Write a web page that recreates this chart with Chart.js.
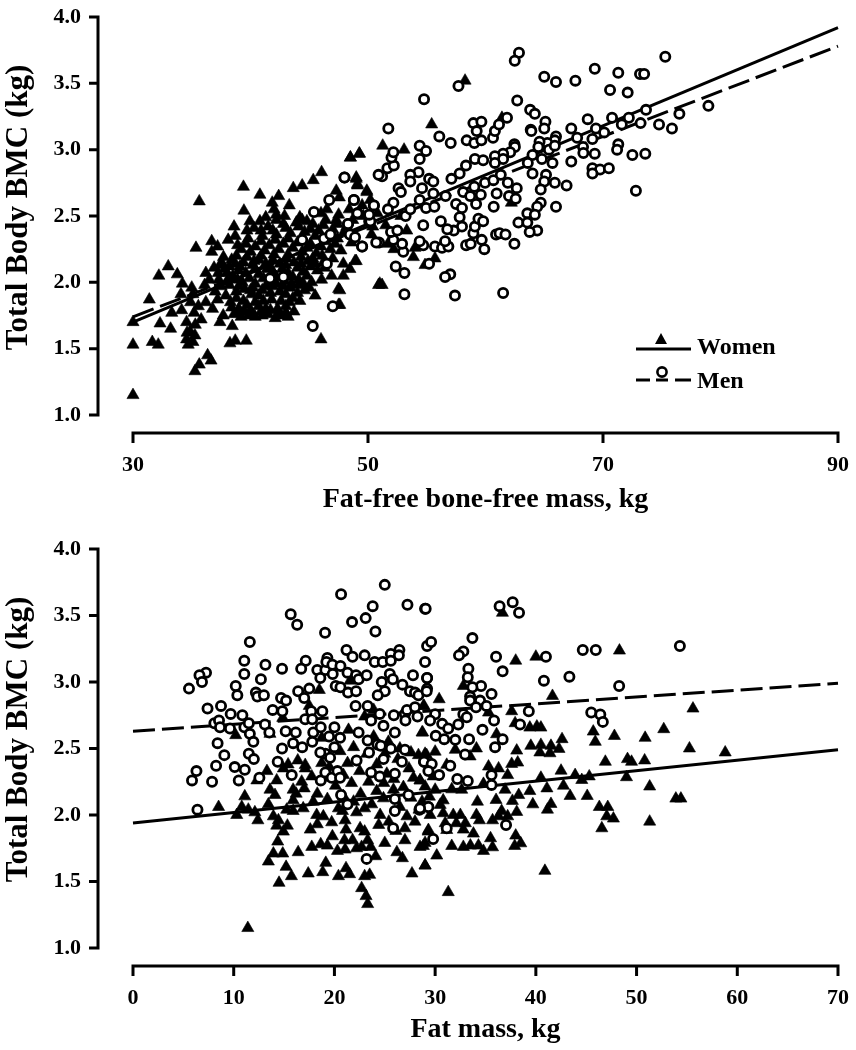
<!DOCTYPE html>
<html>
<head>
<meta charset="utf-8">
<title>Total body BMC</title>
<script src="https://cdn.jsdelivr.net/npm/chart.js@4/dist/chart.umd.min.js"></script>
<style>
    html, body { margin: 0; padding: 0; background: #fff; width: 856px; height: 1050px; overflow: hidden; }
    canvas { position: absolute; left: 0; }
    #top { top: -10px; }
    #bottom { top: 520px; }
    #legend { position: absolute; left: 630px; top: 325px; width: 170px; height: 70px; }
    #legend svg { position: absolute; left: 0; top: 0; }
    #legend span { position: absolute; left: 67px; font: bold 24px "Liberation Serif"; color: #000; line-height: 24px; }
</style>
</head>
<body>
<canvas id="top" width="856" height="530"></canvas>
<canvas id="bottom" width="856" height="530"></canvas>
<div id="legend">
    <svg width="70" height="70">
        <polygon points="31,8 37,19 25,19" fill="#000"/>
        <line x1="6" y1="24" x2="61" y2="24" stroke="#000" stroke-width="3"/>
        <circle cx="32" cy="47" r="4.6" fill="#fff" stroke="#000" stroke-width="2.6"/>
        <line x1="6" y1="55" x2="20" y2="55" stroke="#000" stroke-width="3"/>
        <line x1="26" y1="55" x2="38" y2="55" stroke="#000" stroke-width="3"/>
        <line x1="45" y1="55" x2="61" y2="55" stroke="#000" stroke-width="3"/>
    </svg>
    <span style="top:9px">Women</span>
    <span style="top:43px">Men</span>
</div>
<script>
const yTicks = [1.0, 1.5, 2.0, 2.5, 3.0, 3.5, 4.0];
const ffmTicks = [30, 50, 70, 90];
const fatTicks = [0, 10, 20, 30, 40, 50, 60, 70];

// Fat-free bone-free mass panel, [kg, BMC]
const womenFfm = [
    [30,1.15],[30,1.53],[31.64,1.55],[32.15,1.53],[31.39,1.87],[32.2,2.05],[33,2.12],[33.77,2.06],[34.2,1.99],[34.08,1.91],
    [32.3,1.69],[33.2,1.65],[30,1.7],[35.36,2.26],[35.64,2.61],[36.7,2.31],[37.2,2.27],[36.7,2.23],[37.7,2.19],[38.1,2.32],
    [38.7,2.35],[38.6,2.42],[39.44,2.54],[39.4,2.72],[40.8,2.66],[40.8,2.46],[39.95,2.46],[39.7,2.39],[42.4,2.65],[41.85,2.6],
    [42,2.55],[42.2,2.51],[43.3,2.58],[43.64,2.71],[44.4,2.73],[45.34,2.77],[46.05,2.83],[48.5,2.94],[49.26,2.97],[49,2.79],
    [49.1,2.74],[47.3,2.69],[47.56,2.64],[49.9,2.68],[44.2,2.49],[44.8,2.46],[46.5,2.55],[47.5,2.51],[45.5,1.9],[47.5,1.95],
    [47.5,1.83],[46,1.57],[39.64,1.56],[38.7,1.56],[38.25,1.54],[36.35,1.45],[36.64,1.41],[35.64,1.38],[35.27,1.33],[34.7,1.53],
    [35.27,1.6],[34.56,1.57],[34.85,1.63],[34.56,1.7],[34.14,1.79],[33.3,1.77],[35.56,1.82],[36.77,1.8],[37.4,1.7],[37.68,1.75],
    [38.45,1.67],[36.2,2.07],[36.9,2.11],[37.26,2.07],[36.1,1.98],[38.7,2.14],[49,2.16],[47.9,2.14],[48.46,2.1],[47.9,2.05],
    [46.05,2.02],[46.9,2.05],[50.9,1.98],[58.26,3.52],[55.42,3.19],[51.25,3.03],[53.07,3],[49.27,2.97],[48.5,2.94],[49,2.78],
    [49.1,2.73],[49.9,2.69],[61.4,3.24],[62.2,2.6],[51.2,1.98],[51,1.99],[53.86,2.19],[54.85,2.13],[55.7,2.18],[50.3,2.36],
    [53.3,2.39],[54,2.26],[51.7,2.29],[48.9,2.16],[47.6,1.94],[47.6,1.83],
    [38.6,1.76],[39.2,1.74],[39.8,1.75],[40.4,1.74],[41,1.75],[41.5,1.76],[42.1,1.73],[42.6,1.75],[43.2,1.74],[39,1.8],
    [40,1.79],[40.7,1.82],[41.3,1.8],[42.3,1.8],[43,1.82],[38.3,1.85],[39.4,1.86],[41.8,1.87],[43.6,1.88],[44.2,1.86],
    [37.9,1.9],[38.8,1.93],[40.1,1.91],[41,1.94],[42.5,1.93],[43.4,1.96],[44.6,1.94],[38.2,1.98],[39.3,2],[40.4,1.99],
    [41.6,2],[42.9,2.01],[44.1,2.02],[45.2,2],[37.3,2.02],[38.5,2.05],[39.6,2.07],[40.7,2.06],[41.9,2.08],[43.2,2.07],
    [44.5,2.08],[45.7,2.09],[37.8,2.1],[39.1,2.12],[40.2,2.13],[41.3,2.14],[42.5,2.14],[43.7,2.15],[44.9,2.16],[46.2,2.15],
    [47,2.18],[38.4,2.17],[39.7,2.19],[40.9,2.2],[42,2.21],[43.2,2.21],[44.4,2.23],[45.6,2.22],[46.8,2.25],[47.7,2.24],
    [39.2,2.25],[40.4,2.27],[41.6,2.28],[42.8,2.29],[44,2.3],[45.1,2.29],[46.3,2.31],[47.4,2.33],[48.6,2.3],[39.8,2.33],
    [41,2.35],[42.2,2.36],[43.4,2.37],[44.6,2.38],[45.8,2.39],[47,2.4],[48.2,2.42],[40.3,2.41],[41.5,2.42],[42.8,2.44],
    [43.9,2.45],[45.3,2.44],[46.4,2.47],[48.7,2.47],[49.6,2.5],[41.3,2.49],[42.9,2.5],[46,2.52],[48.4,2.55],[49.5,2.58],
    [50.2,2.62],[50.8,2.52],[50.4,2.42],[52.2,2.25],[52.8,2.5],[51.5,2.43],[35.2,1.77],[35.8,1.72],[36.2,1.85],[37,1.93],
    [35.1,1.91],[35,1.96],[34.9,1.85],[36.5,2.02],[37.4,2.13],[35.3,1.68],[34.6,1.62],[35.1,1.55],
    [38.9,1.77],[39.5,1.78],[40.2,1.76],[40.9,1.78],[41.7,1.79],[42.4,1.77],[43,1.77],[43.7,1.78],[39.7,1.83],[40.4,1.85],
    [41.1,1.86],[42.6,1.86],[43.3,1.85],[38.8,1.88],[40.7,1.9],[41.7,1.92],[43,1.91],[44,1.92],[39.5,1.95],[40.2,1.96],
    [41.9,1.97],[42.8,1.97],[44.1,1.98],[45,1.96],[38.9,2.02],[39.9,2.03],[41.1,2.03],[42.2,2.04],[43.6,2.04],[44.8,2.05],
    [38,2.07],[39,2.09],[40.4,2.1],[41.4,2.1],[42.7,2.1],[44,2.11],[45.1,2.12],[46.3,2.11],[38.8,2.2],[40.3,2.16],
    [41.9,2.17],[43.1,2.18],[44.3,2.19],[45.3,2.18],[46.1,2.2],[40,2.23],[41.2,2.24],[42.4,2.25],[43.6,2.26],[44.8,2.26],
    [46,2.27],[47.2,2.29],[40.9,2.31],[42.1,2.32],[43.2,2.33],[44.4,2.34],[45.5,2.35],[46.7,2.35],[47.9,2.37],
    [37.5,1.97],[38,2.01],[39,1.97],[40,1.94],[41.3,1.97],[42.2,1.99],[43.5,1.99],[44.5,1.99],[37.2,1.87],[38.4,1.81],
    [37.6,2.14],[38.2,2.12],[39.4,2.15],[40.7,2.17],[41.7,2.11],[43,2.13],[44.3,2.14],[45.5,2.14],[38.9,2.28],[39.6,2.29],
    [40.9,2.39],[41.9,2.39],[43,2.41],[44.1,2.42],[45.1,2.4],[46.2,2.43],[47.4,2.44],[42.2,2.47],[44.4,2.47],[47.3,2.47]
];
const menFfm = [
    [62.85,3.73],[62.49,3.67],[75.3,3.7],[69.3,3.61],[65,3.55],[66,3.51],[67.65,3.52],[71.3,3.58],[73.15,3.57],[73.5,3.57],
    [70.6,3.45],[72.1,3.43],[57.7,3.48],[54.77,3.38],[62.7,3.37],[63.8,3.3],[64.2,3.27],[78.97,3.33],[76.5,3.27],[73.66,3.3],
    [74.77,3.19],[75.87,3.16],[73.2,3.2],[72.2,3.24],[71.6,3.19],[70.77,3.24],[68.7,3.23],[69.4,3.16],[70.1,3.13],[69.1,3.08],
    [67.3,3.16],[67.8,3.09],[68.3,3.02],[68.33,2.975],[69.3,2.97],[71.3,3.04],[71.2,3],[72.5,2.96],[73.6,2.97],[69.1,2.86],
    [69.75,2.85],[70.5,2.86],[69.1,2.82],[67.3,2.91],[72.8,2.69],[65.1,3.21],[65,3.16],[63.85,3.15],[63.9,3.14],[66,3.1],
    [65.9,3.07],[65.26,3.05],[64.6,3.06],[64.5,3.02],[65.4,3],[65.9,3.03],[64,2.96],[64.8,2.93],[65.7,2.9],[63.6,2.9],
    [64,2.82],[65.15,2.81],[65,2.76],[65.9,2.75],[66.9,2.73],[64.7,2.7],[64.7,2.6],[64.4,2.57],[66,2.57],[63.56,2.52],
    [64.2,2.51],[62.8,2.45],[63.56,2.45],[64.4,2.39],[63.76,2.38],[62.46,2.29],[61.5,1.92],[57.4,1.9],[53.1,1.91],[57,2.06],
    [56.56,2.04],[52.36,2.12],[53.1,2.07],[55.2,2.14],[53,2.23],[52.9,2.29],[49.5,2.27],[50.94,2.3],[52.16,2.32],[51.96,2.38],
    [52.5,2.39],[54.7,2.28],[54.4,2.31],[55.7,2.27],[56.3,2.26],[56.84,2.27],[56.56,2.31],[58.35,2.28],[58.74,2.29],[59.9,2.25],
    [59.68,2.32],[58.97,2.37],[60.9,2.36],[61.2,2.37],[61.7,2.36],[59.1,2.42],[58,2.42],[57.3,2.39],[56.75,2.4],[56.2,2.46],
    [54.7,2.43],[57.8,2.49],[59.4,2.48],[59.8,2.46],[60.7,2.57],[57.5,2.59],[58,2.56],[59.2,2.59],[54.94,2.56],[55.65,2.57],
    [53.2,2.5],[53.6,2.55],[52.16,2.6],[51.7,2.55],[50.5,2.58],[50.1,2.51],[50.1,2.46],[49.1,2.52],[48.8,2.62],[48,2.79],
    [48.3,2.44],[48.5,2.36],[51.2,2.8],[51.65,2.86],[52.2,2.88],[52,2.94],[52.16,2.98],[54.4,3.03],[54.94,2.99],[54.4,2.93],
    [51.73,3.16],[56.07,3.1],[57.04,3.05],[58.97,3.2],[59.65,3.21],[59.25,3.14],[58.4,3.07],[59.05,3.05],[59.65,3.07],[60.64,3.09],
    [60.8,3.14],[61.15,3.19],[61.83,3.24],[62.46,3.04],[62.5,3.02],[62.1,2.98],[61.5,2.97],[60.8,2.95],[61.5,2.93],[60.8,2.9],
    [59.1,2.93],[59.8,2.92],[58.34,2.88],[57.8,2.82],[57.1,2.78],[54.3,2.83],[53.6,2.81],[53.6,2.76],[52.6,2.71],[52.8,2.68],
    [54.6,2.71],[54.4,2.62],[55.2,2.78],[55.56,2.76],[55.56,2.67],[56.6,2.65],[58.1,2.68],[59.05,2.72],[59.6,2.66],[58.7,2.65],
    [59.96,2.75],[60.67,2.77],[61.3,2.81],[61.9,2.75],[62.66,2.71],[60.95,2.67],[62,2.65],[62.57,2.63],
    [45.3,1.67],[47,1.82],[41.66,2.03],[42.8,2.04],[46.5,2.14],[44.4,2.32],[46.25,2.33],[46.8,2.36],[48.46,2.36],[48.9,2.34],
    [49.5,2.27],[48.3,2.44],[50.2,2.46],[49.1,2.52],[50.1,2.51],[50.5,2.58],[48.8,2.62],[46.7,2.62],[45.4,2.53],[48,2.79],
    [50.9,2.81],[50.7,2.3]
];

// Fat mass panel, [kg, BMC]
const womenFat = [
    [11.4,1.15],[8.5,2.06],[11.1,2.14],[10.3,2],[10.8,2.06],[11.45,2.04],[12.1,2.02],[12.4,1.96],[13.44,2.08],[13.94,1.99],
    [14.44,1.96],[15.33,1.92],[14.27,1.92],[14.93,1.875],[14.37,1.8],[13.94,1.71],[14.87,1.71],[16.4,1.72],[13.44,1.65],[15.2,1.61],
    [15.73,1.54],[14.5,1.49],[17.4,1.56],[19.14,1.64],[18.84,1.57],[20.4,1.54],[21.15,1.6],[21.5,1.555],[23,1.54],[23.5,1.55],
    [22.7,1.45],[23.14,1.39],[23.3,1.33],[27.7,1.56],[29,1.62],[26.2,1.72],[26.75,1.675],[24.1,1.69],[25,1.79],[27,1.81],
    [17.75,1.76],[18.64,1.78],[19.3,1.77],[20.3,1.73],[21.06,1.74],[21,1.81],[21.8,1.81],[22.2,1.75],[22.7,1.76],[23.6,1.76],
    [23.3,1.81],[23,1.875],[22.55,1.9],[19.8,1.84],[17.6,1.89],[21.15,1.89],[19.73,1.945],[21.06,1.96],[24.4,1.925],[22.2,2.02],
    [23.7,2.08],[22.6,2.16],[17.9,2.1],[16.9,2.05],[15.9,2.11],[15.9,2.03],[15.26,2.04],[18.24,2],[18.9,1.99],[20.4,2.05],
    [24.54,2],[24.87,2.125],[25.86,2.19],[26.5,2.06],[27.2,1.99],[27,1.9],[28,1.95],[28.5,1.76],[29,1.79],[29.3,1.875],
    [13.6,2.19],[14.27,2.26],[14.1,2.15],[15.9,2.19],[14.93,2.35],[16.75,2.25],[17.1,2.35],[17.75,2.29],[21.7,2.24],[23.4,2.25],
    [26.85,2.21],[27.85,2.28],[28.5,2.26],[13.3,2.33],[12.3,2.26],
    [36.68,3.52],[38,3.16],[40,3.19],[48.3,3.236],[41.65,2.895],[55.6,2.8],[52.7,2.645],[37.6,2.78],[30.4,2.87],[28.9,2.82],
    [32.8,2.97],[35.3,2.77],[37.94,2.69],[39.4,2.657],[40.1,2.665],[40.5,2.657],[28.76,2.62],[36.1,2.607],[42.6,2.57],[45.7,2.627],
    [45.9,2.55],[47.8,2.594],[50.85,2.58],[55.25,2.5],[58.8,2.47],[39.5,2.52],[40.5,2.527],[41.5,2.52],[42.3,2.497],[40.4,2.47],
    [41.4,2.464],[38.1,2.484],[34.1,2.5],[33.47,2.44],[32,2.49],[30,2.476],[46.9,2.4],[49.1,2.42],[49.5,2.4],[50.8,2.41],
    [37.6,2.384],[38.2,2.394],[35.3,2.364],[36.3,2.35],[37.2,2.3],[42.5,2.333],[43.9,2.3],[45.3,2.29],[49,2.284],[40.5,2.28],
    [44.56,2.263],[42.74,2.22],[51.3,2.214],[41.1,2.2],[39.4,2.18],[36.94,2.19],[38.3,2.15],[43.4,2.143],[45.1,2.143],[53.9,2.123],
    [54.4,2.123],[34.2,2.1],[36.05,2.113],[37.67,2.106],[39.7,2.08],[41.5,2.083],[41.15,2.04],[46.3,2.06],[47.14,2.06],[47.04,1.99],
    [47.7,1.973],[51.3,1.95],[46.55,1.9],[38.1,2.023],[34.1,2],[34.4,1.96],[36.6,2.03],[35.7,1.96],[36.3,1.99],[37.2,1.99],
    [38,1.845],[38.5,1.787],[37.9,1.767],[35.5,1.825],[35.7,1.757],[34.8,1.73],[32.8,1.76],[33.5,1.77],[34.3,1.77],[31.65,1.767],
    [30.16,1.695],[29,1.62],[28.83,1.767],[31.3,1.42],[40.9,1.58],[33.8,1.86],[32.8,1.89],[31.8,2],[32.5,2],[30.8,2.013],
    [30.5,2.076],[29.43,2.138],[30,2.19],[31.65,2.193],[32.64,2.19],[34.8,2.234],[29,2.214],[29.5,2],[29.33,1.887],[31.15,1.887],
    [32.1,1.938],[33,1.938],[31,1.938],[30.8,2.11],[29.8,2.29],[31.15,2.377],[29.16,2.45],[28.5,2.26],
    [10.2,2.6],[14.87,2.73],[18.5,2.94],[17.5,2.82],[28.7,2.62],[28.84,2.82],[21.4,2.64],[18.74,2.58],[20.56,2.48],[21.9,2.51],
    [16.36,2.41],[15.4,2.38],[17.1,2.376],[18.74,2.39],[21.3,2.39],[23,2.74],[23.9,2.79],[28.34,2.45],[29,2.46],[21.55,3.01],
    [13.6,2.61],[25.36,2.55],[23.9,2.59],
    [19.2,2.28],[20.1,2.22],[20.9,2.3],[22.5,2.33],[24.2,2.38],[25.2,2.31],[26.3,2.42],[27.4,2.35],[24.9,2.24],[25.9,2.27],
    [16.2,2.16],[17,2.2],[18.3,2.16],[19.3,2.12],[20.9,2.14],[21.9,2.1],[23,2.05],[24.2,2.18],[27.6,2.13],[28.7,2.1],
    [19.5,2.36],[23.2,2.46],[25,2.46],[26.5,2.5],[27.6,2.47],[20.8,2.03],[25.4,1.95],[26.1,1.88],[28.4,2.04],[18.3,1.93]
];
const menFat = [
    [25,3.73],[20.66,3.66],[27.25,3.58],[29,3.55],[23.8,3.57],[23.1,3.48],[21.75,3.45],[24.07,3.38],[15.66,3.51],[16.3,3.43],
    [19.07,3.37],[11.6,3.3],[11.05,3.16],[13.15,3.13],[14.8,3.1],[17.15,3.16],[16.7,3.1],[19.3,3.18],[21.2,3.24],[21.8,3.19],
    [23,3.2],[24,3.15],[24.8,3.15],[25.6,3.21],[26.45,3.24],[26.4,3.2],[25.6,3.16],[29,3.15],[29.2,3.27],[11.05,3.06],
    [12.7,3.02],[7.25,3.07],[6.6,3.05],[6.85,3],[5.56,2.95],[10.2,2.97],[10.36,2.9],[12.2,2.92],[12.35,2.89],[13,2.9],
    [7.4,2.8],[8.74,2.82],[9.7,2.76],[10.86,2.75],[8.08,2.69],[8.54,2.71],[8.64,2.66],[9.63,2.65],[11.06,2.66],[11.5,2.69],
    [11.6,2.61],[11.95,2.55],[13.1,2.68],[13.54,2.62],[8.4,2.54],[9.07,2.45],[11.5,2.46],[12,2.42],[13.87,2.79],[14.7,2.88],
    [15.2,2.86],[14.83,2.78],[16.4,2.93],[17.5,2.95],[17,2.88],[17.7,2.78],[18.8,2.78],[17.1,2.72],[17.8,2.72],[15.16,2.63],
    [16.16,2.62],[17.9,2.62],[18.64,2.66],[20,2.66],[15.9,2.54],[16.8,2.51],[14.8,2.5],[17.8,2.55],[19.47,2.59],[20.56,2.58],
    [20,2.51],[19.1,2.46],[18.6,2.47],[19.57,2.43],[14.37,2.4],[22.2,2.41],[18.3,3.09],[19.1,3.09],[19.2,3.15],[19.8,3.13],
    [20.6,3.12],[19.83,3.06],[18.6,3.03],[21.3,3.07],[22.15,3.05],[22.4,3.02],[23.2,3.05],[20.13,2.97],[20.6,2.96],[21.35,2.92],
    [22.15,2.93],[24.7,3],[25,2.93],[24.3,2.9],[25.5,3.06],[25.8,3.02],[26.75,2.98],[27.8,3.05],[27.5,2.93],[28,2.92],
    [29.2,3.03],[29.2,2.95],[28.34,2.9],[22.1,2.82],[23.3,2.82],[24.5,2.76],[25.9,2.75],[27,2.76],[27.2,2.79],[28,2.81],
    [28.25,2.74],[27.05,2.71],[23.64,2.71],[24.87,2.67],[26,2.62],[22.4,2.62],[23.3,2.56],[24.27,2.53],[24.6,2.52],[25.6,2.5],
    [27,2.49],[23.44,2.47],[24.87,2.42],[26.7,2.4],[28.9,2.4],[6.3,2.33],[8.25,2.37],[10.1,2.36],[11.1,2.34],[5.86,2.26],
    [7.85,2.25],[10.5,2.26],[12.55,2.28],[6.4,2.04],[15.76,2.3],[18.64,2.26],[19.1,2.32],[19.73,2.28],[20.3,2.33],[20.56,2.28],
    [23.64,2.32],[24.5,2.29],[26,2.31],[20.66,2.15],[21.3,2.08],[27.35,2.15],[26,2.12],[26,2.03],[28.44,2.04],[29.3,2.06],
    [25.83,1.9],[23.2,1.67],
    [38.33,3.52],[37.7,3.6],[36.4,3.57],[29.06,3.55],[54.3,3.27],[44.66,3.24],[45.95,3.24],[41,3.19],[33.7,3.33],[29.6,3.3],
    [32.8,3.23],[32.37,3.2],[36.05,3.19],[36.7,3.08],[33.3,3.1],[29.2,3.03],[33.24,3.035],[34.56,2.97],[33.7,2.96],[40.8,3.01],
    [43.33,3.04],[48.27,2.97],[35.6,2.91],[33.47,2.89],[34.46,2.86],[33.47,2.86],[35.1,2.82],[34.06,2.81],[29.16,2.93],[39.3,2.78],
    [45.5,2.77],[46.4,2.755],[46.65,2.7],[32.8,2.757],[33.14,2.735],[30,2.757],[29.5,2.71],[35.85,2.71],[30.7,2.685],[32.3,2.68],
    [31.3,2.65],[38.43,2.68],[34.7,2.64],[30.06,2.595],[30.9,2.57],[32,2.565],[33.37,2.57],[36.7,2.57],[35.95,2.51],[32.97,2.455],
    [28.9,2.4],[29.66,2.384],[31.5,2.37],[29.33,2.33],[30.4,2.3],[35.6,2.3],[32.2,2.27],[33.24,2.256],[35.6,2.226],[29.33,2.06],
    [37.04,1.925],[31.15,1.9],[29.8,1.82],[28.5,2.05]
];

// fitted lines, end points read where they meet the axes range
const womenFfmLine = [[30, 1.70], [90, 3.92]];
const menFfmLine = [[30, 1.74], [90, 3.78]];
const womenFatLine = [[0, 1.94], [70, 2.49]];
const menFatLine = [[0, 2.63], [70, 2.99]];

const asXY = pairs => pairs.map(p => ({x: p[0], y: p[1]}));
const fontFamily = '"Liberation Serif"';

// spines sit away from the data area, as in the printed figure
const detachedAxes = {
    id: "detachedAxes",
    afterDraw(chart) {
        const {ctx, scales: {x, y}} = chart;
        const spineX = y.right - 35;
        const spineY = x.top + 18;
        ctx.save();
        ctx.strokeStyle = "#000";
        ctx.lineWidth = 3;
        ctx.lineCap = "butt";
        ctx.beginPath();
        const x0 = x.getPixelForValue(x.ticks[0].value);
        const x1 = x.getPixelForValue(x.ticks[x.ticks.length - 1].value);
        ctx.moveTo(x0 - 1.5, spineY);
        ctx.lineTo(x1 + 1.5, spineY);
        x.ticks.forEach(t => {
            const px = x.getPixelForValue(t.value);
            ctx.moveTo(px, spineY);
            ctx.lineTo(px, spineY + 10);
        });
        const y0 = y.getPixelForValue(yTicks[0]);
        const y1 = y.getPixelForValue(yTicks[yTicks.length - 1]);
        ctx.moveTo(spineX, y0 + 1.5);
        ctx.lineTo(spineX, y1 - 1.5);
        yTicks.forEach(v => {
            const py = y.getPixelForValue(v);
            ctx.moveTo(spineX, py);
            ctx.lineTo(spineX - 9, py);
        });
        ctx.stroke();
        ctx.restore();
    }
};

function makeChart(id, women, men, womenLine, menLine, xTicks, xMin, xMax, yMax, xLabel, padTop, xHeight) {
    new Chart(document.getElementById(id), {
        type: "scatter",
        data: {
            datasets: [
                {
                    label: "Men",
                    data: asXY(men),
                    order: 1,
                    pointStyle: "circle",
                    pointRadius: 4.6,
                    pointBorderWidth: 2.8,
                    pointBorderColor: "#000",
                    pointBackgroundColor: "#fff",
                    clip: false
                },
                {
                    label: "Women",
                    data: asXY(women),
                    order: 2,
                    pointStyle: "triangle",
                    pointRadius: 7,
                    pointBorderWidth: 0.6,
                    pointBorderColor: "#000",
                    pointBackgroundColor: "#000",
                    clip: false
                },
                {
                    label: "Women fit",
                    data: asXY(womenLine),
                    order: 3,
                    showLine: true,
                    pointRadius: 0,
                    borderColor: "#000",
                    borderWidth: 3,
                    clip: false
                },
                {
                    label: "Men fit",
                    data: asXY(menLine),
                    order: 3,
                    showLine: true,
                    pointRadius: 0,
                    borderColor: "#000",
                    borderWidth: 3,
                    borderDash: [22, 7],
                    clip: false
                }
            ]
        },
        options: {
            responsive: false,
            animation: false,
            layout: {padding: {top: padTop, right: 18, left: 0, bottom: 0}},
            plugins: {legend: {display: false}, tooltip: {enabled: false}},
            scales: {
                x: {
                    type: "linear",
                    min: xMin,
                    max: xMax,
                    grid: {display: false},
                    border: {display: false},
                    afterBuildTicks: s => { s.ticks = xTicks.map(v => ({value: v})); },
                    afterFit: s => { s.height = xHeight; s.paddingLeft = 0; s.paddingRight = 0; },
                    ticks: {
                        autoSkip: false,
                        maxRotation: 0,
                        padding: 29,
                        color: "#000",
                        font: {family: fontFamily, size: 22, weight: "bold"}
                    },
                    title: {
                        display: true,
                        text: xLabel,
                        color: "#000",
                        padding: {top: 0, bottom: 3},
                        font: {family: fontFamily, size: 28, weight: "bold"}
                    }
                },
                y: {
                    type: "linear",
                    min: 1,
                    max: yMax,
                    grid: {display: false},
                    border: {display: false},
                    afterBuildTicks: s => { s.ticks = yTicks.map(v => ({value: v})); },
                    afterFit: s => { s.width = 133; s.paddingTop = 0; s.paddingBottom = 0; },
                    ticks: {
                        autoSkip: false,
                        padding: 44,
                        color: "#000",
                        callback: v => v.toFixed(1),
                        font: {family: fontFamily, size: 22, weight: "bold"}
                    },
                    title: {
                        display: true,
                        text: "Total Body BMC (kg)",
                        color: "#000",
                        padding: {top: 0, bottom: 0},
                        font: {family: fontFamily, size: 31, weight: "bold"}
                    }
                }
            }
        },
        plugins: [detachedAxes]
    });
}

makeChart("top", womenFfm, menFfm, womenFfmLine, menFfmLine, ffmTicks, 30, 90, 4.128, "Fat-free bone-free mass, kg", 10, 105);
makeChart("bottom", womenFat, menFat, womenFatLine, menFatLine, fatTicks, 0, 70, 4.135, "Fat mass, kg", 11, 102);
</script>
</body>
</html>
